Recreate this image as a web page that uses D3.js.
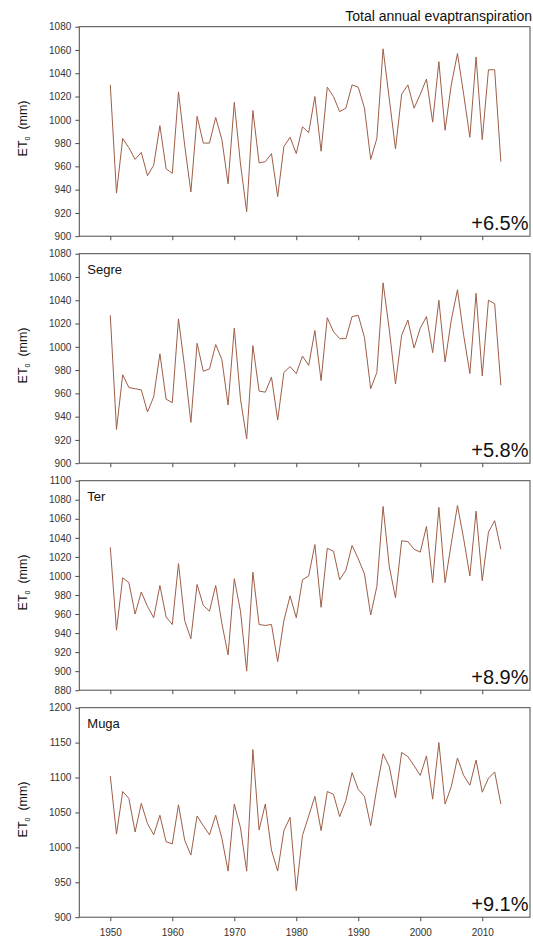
<!DOCTYPE html>
<html>
<head>
<meta charset="utf-8">
<script src="https://cdnjs.cloudflare.com/ajax/libs/d3/7.8.5/d3.min.js"></script>
<style>
  body { margin: 0; background: #fff; overflow: hidden; }
  svg { font-family: "Liberation Sans", Arial, sans-serif; }
</style>
</head>
<body>
<div id="chart"></div>
<script>
// Years on the x axis
const years = [1950, 1951, 1952, 1953, 1954, 1955, 1956, 1957, 1958, 1959,
  1960, 1961, 1962, 1963, 1964, 1965, 1966, 1967, 1968, 1969,
  1970, 1971, 1972, 1973, 1974, 1975, 1976, 1977, 1978, 1979,
  1980, 1981, 1982, 1983, 1984, 1985, 1986, 1987, 1988, 1989,
  1990, 1991, 1992, 1993, 1994, 1995, 1996, 1997, 1998, 1999,
  2000, 2001, 2002, 2003, 2004, 2005, 2006, 2007, 2008, 2009,
  2010, 2011, 2012, 2013];

// Annual ET0 (mm) per basin
const totalEt = [1030, 937, 984, 976, 966, 972, 952, 961, 995, 958,
  954, 1024, 978, 938, 1003, 980, 980, 1002, 983, 945,
  1015, 962, 921, 1008, 963, 964, 971, 934, 977, 985,
  971, 994, 989, 1020, 973, 1028, 1020, 1007, 1010, 1030,
  1028, 1010, 966, 984, 1061, 1018, 975, 1022, 1030, 1010,
  1022, 1035, 998, 1050, 991, 1030, 1057, 1022, 985, 1054,
  983, 1043, 1043, 964];

const segreEt = [1027, 929, 976, 965, 964, 963, 944, 957, 994, 955,
  952, 1024, 982, 935, 1003, 979, 981, 1002, 989, 950,
  1016, 955, 921, 1001, 962, 961, 974, 937, 978, 983,
  977, 992, 984, 1014, 971, 1025, 1013, 1007, 1007, 1026,
  1027, 1008, 964, 978, 1055, 1015, 968, 1010, 1023, 999,
  1016, 1026, 995, 1040, 987, 1023, 1049, 1010, 977, 1046,
  975, 1040, 1037, 967];

const terEt = [1030, 943, 998, 993, 960, 983, 968, 956, 990, 957,
  949, 1013, 953, 934, 991, 969, 963, 990, 950, 917,
  997, 963, 900, 1004, 949, 948, 949, 910, 953, 979,
  956, 996, 1000, 1033, 967, 1029, 1026, 996, 1006, 1032,
  1018, 1002, 959, 989, 1073, 1010, 977, 1037, 1036, 1028,
  1025, 1052, 993, 1072, 993, 1034, 1074, 1039, 1000, 1068,
  995, 1046, 1058, 1028];

const mugaEt = [1102, 1019, 1080, 1070, 1022, 1063, 1034, 1018, 1046, 1008,
  1005, 1061, 1010, 989, 1045, 1031, 1018, 1046, 1013, 966,
  1062, 1028, 966, 1140, 1025, 1062, 996, 966, 1024, 1043,
  938, 1017, 1045, 1073, 1024, 1080, 1076, 1044, 1067, 1107,
  1083, 1073, 1031, 1085, 1134, 1116, 1071, 1136, 1130, 1117,
  1103, 1131, 1069, 1150, 1062, 1087, 1128, 1103, 1089, 1125,
  1079, 1099, 1108, 1062];

// Axis ticks
const xTicks = [1950, 1960, 1970, 1980, 1990, 2000, 2010];
const ticksTotal = [900, 920, 940, 960, 980, 1000, 1020, 1040, 1060, 1080];
const ticksSegre = [900, 920, 940, 960, 980, 1000, 1020, 1040, 1060, 1080];
const ticksTer = [880, 900, 920, 940, 960, 980, 1000, 1020, 1040, 1060, 1080, 1100];
const ticksMuga = [900, 950, 1000, 1050, 1100, 1150, 1200];

// Panel labels
const panelNames = ["", "Segre", "Ter", "Muga"];
const trendLabels = ["+6.5%", "+5.8%", "+8.9%", "+9.1%"];

const panels = [
  { name: panelNames[0], trend: trendLabels[0], values: totalEt, ticks: ticksTotal },
  { name: panelNames[1], trend: trendLabels[1], values: segreEt, ticks: ticksSegre },
  { name: panelNames[2], trend: trendLabels[2], values: terEt, ticks: ticksTer },
  { name: panelNames[3], trend: trendLabels[3], values: mugaEt, ticks: ticksMuga }
];

const width = 533, height = 940;
const left = 79.3, right = 530;
const firstTop = 26.7, step = 227, panelH = 209.5;
const axisColor = "#4a4a4a";
const lineColor = "#9e5e48";

const svg = d3.select("#chart")
  .append("svg")
  .attr("width", width)
  .attr("height", height);

// Shared x scale
const x = d3.scaleLinear()
  .domain([1945, 2017.7])
  .range([left, right]);

// Title at the top right
svg.append("text")
  .attr("x", 532)
  .attr("y", 21)
  .attr("text-anchor", "end")
  .style("font-size", "14px")
  .style("fill", "#111")
  .text("Total annual evaptranspiration");

panels.forEach(function (p, i) {
  const top = firstTop + i * step;
  const bottom = top + panelH;

  const y = d3.scaleLinear()
    .domain([p.ticks[0], p.ticks[p.ticks.length - 1]])
    .range([bottom, top]);

  const g = svg.append("g");

  // Left axis
  const yAxis = g.append("g")
    .attr("transform", "translate(" + left + ",0)")
    .call(d3.axisLeft(y).tickValues(p.ticks).tickSize(4).tickPadding(4).tickFormat(d3.format("d")));
  yAxis.select(".domain").remove();
  yAxis.selectAll("line").attr("stroke", axisColor);
  yAxis.selectAll("text")
    .style("font-size", "10px")
    .style("font-family", "Liberation Sans, Arial, sans-serif")
    .attr("fill", "#333");

  // Bottom axis, labels only on the last panel
  const xAxis = g.append("g")
    .attr("transform", "translate(0," + bottom + ")")
    .call(d3.axisBottom(x).tickValues(xTicks).tickSize(4).tickPadding(8).tickFormat(d3.format("d")));
  xAxis.select(".domain").remove();
  xAxis.selectAll("line").attr("stroke", axisColor);
  xAxis.selectAll("text")
    .style("font-size", "10px")
    .style("font-family", "Liberation Sans, Arial, sans-serif")
    .attr("fill", "#333")
    .style("display", i === panels.length - 1 ? null : "none");

  // Frame
  g.append("rect")
    .attr("x", left)
    .attr("y", top)
    .attr("width", right - left)
    .attr("height", panelH)
    .attr("fill", "none")
    .attr("stroke", axisColor)
    .attr("stroke-width", 1);

  // Series line
  const line = d3.line()
    .x(function (d, j) { return x(years[j]); })
    .y(function (d) { return y(d); });

  g.append("path")
    .datum(p.values)
    .attr("d", line)
    .attr("fill", "none")
    .attr("stroke", lineColor)
    .attr("stroke-width", 1);

  // Basin name
  if (p.name) {
    g.append("text")
      .attr("x", left + 8)
      .attr("y", top + 20)
      .style("font-size", "13px")
      .style("fill", "#111")
      .text(p.name);
  }

  // Trend percentage
  g.append("text")
    .attr("x", right - 1.5)
    .attr("y", bottom - 6)
    .attr("text-anchor", "end")
    .style("font-size", "20px")
    .style("fill", "#111")
    .text(p.trend);

  // Y label ET0 (mm)
  const lab = g.append("text")
    .attr("transform", "translate(27," + (top + panelH / 2 - 3) + ") rotate(-90)")
    .attr("text-anchor", "middle")
    .style("font-size", "12.5px")
    .style("fill", "#111")
    .style("white-space", "pre");
  lab.append("tspan").text("ET");
  lab.append("tspan")
    .attr("dy", 3)
    .style("font-size", "7px")
    .text("0");
  lab.append("tspan")
    .attr("dy", -3)
    .text("  (mm)");
});
</script>
</body>
</html>
